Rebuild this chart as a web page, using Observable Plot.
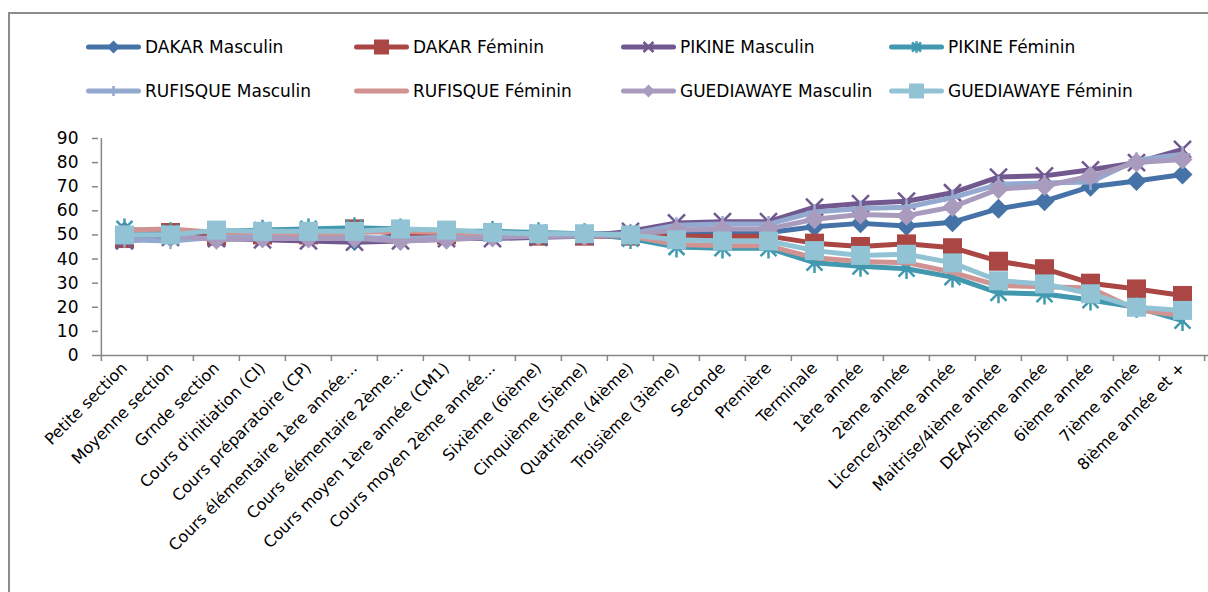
<!DOCTYPE html>
<html><head><meta charset="utf-8">
<script src="https://cdn.jsdelivr.net/npm/d3@7"></script>
<script src="https://cdn.jsdelivr.net/npm/@observablehq/plot@0.6"></script>
<style>
html,body{margin:0;padding:0;background:#fff;}
body{font-family:"DejaVu Sans",sans-serif;width:1208px;height:592px;position:relative;overflow:hidden;}
#frame{position:absolute;left:8px;top:12px;width:1230px;height:620px;border:2px solid #8c8c8c;box-sizing:border-box;}
#legend{position:absolute;left:0;top:0;width:1208px;height:118px;}
#chart{position:absolute;left:0;top:118px;}
.item{position:absolute;display:flex;align-items:center;height:24px;font-size:17px;color:#000;white-space:nowrap;}
.item svg{margin-right:4px;}
</style></head><body>
<div id="frame"></div>
<div id="legend"></div>
<div id="chart"></div>
<script>
const categories = ["Petite section","Moyenne section","Grnde section","Cours d'initiation (CI)","Cours préparatoire (CP)","Cours élémentaire 1ère année...","Cours élémentaire 2ème...","Cours moyen 1ère année (CM1)","Cours moyen 2ème année...","Sixième (6ième)","Cinquième (5ième)","Quatrième (4ième)","Troisième (3ième)","Seconde","Première","Terminale","1ère année","2ème année","Licence/3ième année","Maitrise/4ième année","DEA/5ième année","6ième année","7ième année","8ième année et +"];

const dakarMasculin    = [51.5,49,50.5,50,50,47.5,49.5,50,49,50.5,50.5,50.5,50.5,50.5,51,53.4,54.8,53.7,55.3,60.9,64,70,72.4,75.1];
const dakarFeminin     = [48.5,51,49.5,50,50,52.5,50.5,50,51,49.5,49.5,49.5,49.5,49.5,49.5,46.6,45.2,46.3,44.7,39.1,36,30,27.6,24.9];
const pikineMasculin   = [47.5,49,48.5,48,47.5,47,47.5,48.5,48.5,49,49.5,51.5,55,55.5,55.5,61.5,63,64,67.5,74,74.5,77,80,85.5];
const pikineFeminin    = [52.5,51,51.5,52,52.5,53,52.5,51.5,51.5,51,50.5,48.5,45,44.5,44.5,38.5,37,36,32.5,26,25.5,23,20,14.5];
const rufisqueMasculin = [48,47.5,49,49,49.5,49,48.5,49,49.5,49.5,50,50.5,54,54.5,54.5,59.5,61,61.5,65.5,71,71.5,72,81,83.5];
const rufisqueFeminin  = [52,52.5,51,51,50.5,51,51.5,51,50.5,50.5,50,49.5,46,45.5,45.5,40.5,39,38.5,34.5,29,28.5,28,19,16.5];
const guediawayeMasculin = [50,50,48,48.5,48.5,48.5,47.5,48,49,49.5,49.5,50,52,52.5,52.5,56.5,58.5,58,61.6,69,70.3,74.4,80,81.3];
const guediawayeFeminin  = [50,50,52,51.5,51.5,51.5,52.5,52,51,50.5,50.5,50,48,47.5,47.5,43.5,41.5,42,38.4,31,29.7,25.6,20,18.7];

const yTicks = [0,10,20,30,40,50,60,70,80,90];

const half = size => Math.sqrt(size/Math.PI);
const diamondSym = {draw(c,s){const r=half(s);c.moveTo(0,-r);c.lineTo(r,0);c.lineTo(0,r);c.lineTo(-r,0);c.closePath();}};
const squareSym  = {draw(c,s){const r=half(s);c.moveTo(-r,-r);c.lineTo(r,-r);c.lineTo(r,r);c.lineTo(-r,r);c.closePath();}};
const timesSym   = {draw(c,s){const r=half(s);c.moveTo(-r,-r);c.lineTo(r,r);c.moveTo(-r,r);c.lineTo(r,-r);}};
const starSym    = {draw(c,s){const r=half(s);c.moveTo(-r,-r);c.lineTo(r,r);c.moveTo(-r,r);c.lineTo(r,-r);c.moveTo(0,-r*1.3);c.lineTo(0,r*1.3);}};
const plusSym    = {draw(c,s){const r=half(s);c.moveTo(0,-r);c.lineTo(0,r);c.moveTo(-r,0);c.lineTo(r,0);}};
const dashSym    = {draw(c,s){const r=half(s);c.moveTo(-r,0);c.lineTo(r,0);}};

const series = [
  {name:"DAKAR Masculin", values:dakarMasculin, color:"#4572A7", symbol:diamondSym, filled:true, r:10, lr:6.5},
  {name:"DAKAR Féminin", values:dakarFeminin, color:"#AA4643", symbol:squareSym, filled:true, r:9.5, lr:7.5},
  {name:"PIKINE Masculin", values:pikineMasculin, color:"#71588F", symbol:timesSym, filled:false, r:8.5, lr:5},
  {name:"PIKINE Féminin", values:pikineFeminin, color:"#4198AF", symbol:starSym, filled:false, r:8, lr:4.5},
  {name:"RUFISQUE Masculin", values:rufisqueMasculin, color:"#93A9CF", symbol:plusSym, filled:false, r:8, lr:5},
  {name:"RUFISQUE Féminin", values:rufisqueFeminin, color:"#D19392", symbol:dashSym, filled:false, r:6, lr:4},
  {name:"GUEDIAWAYE Masculin", values:guediawayeMasculin, color:"#A99BBD", symbol:diamondSym, filled:true, r:10, lr:6.5},
  {name:"GUEDIAWAYE Féminin", values:guediawayeFeminin, color:"#91C3D5", symbol:squareSym, filled:true, r:9.5, lr:7.5}
];

const rows = series.flatMap(s => s.values.map((v,i) => ({series:s.name, cat:categories[i], value:v})));

const W = 1208, H = 474, mL = 98, mR = 0, mT = 20, mB = 237;
const bw = (W - mL - mR) / categories.length;
const axisColor = "#868686";

const marks = [
  Plot.ruleY([0], {stroke: axisColor, strokeWidth: 1.5}),
  Plot.ruleX([categories[0]], {y1: 0, y2: 90, dx: -bw/2, stroke: axisColor, strokeWidth: 1.5}),
  Plot.ruleX(categories, {y1: 0, y2: 0, insetBottom: -6, dx: -bw/2, stroke: axisColor, strokeWidth: 1.5}),
  Plot.ruleX([categories[categories.length-1]], {y1: 0, y2: 0, insetBottom: -6, dx: bw/2 - 1, stroke: axisColor, strokeWidth: 1.5}),
  Plot.axisY({ticks: yTicks, tickSize: 6, tickPadding: 14, stroke: axisColor, strokeWidth: 1.5, fontSize: 17, color: "#000", label: null}),
  Plot.axisX({tickSize: 0, tickRotate: -45, tickPadding: 10, fontSize: 16, label: null, color:"#000"})
];
for (const s of series) {
  const d = rows.filter(r => r.series === s.name);
  marks.push(Plot.line(d, {x: "cat", y: "value", stroke: s.color, strokeWidth: 5, strokeLinejoin: "round", strokeLinecap: "round"}));
  marks.push(Plot.dot(d, {x: "cat", y: "value", symbol: s.symbol, r: s.r,
    fill: s.filled ? s.color : "none", stroke: s.filled ? "none" : s.color, strokeWidth: s.filled ? 0 : 2.5}));
}

const chart = Plot.plot({
  width: W, height: H, marginLeft: mL, marginRight: mR, marginTop: mT, marginBottom: mB,
  style: {fontFamily: '"DejaVu Sans", sans-serif', background: "transparent", color: "#000", overflow: "visible"},
  x: {type: "band", domain: categories, padding: 0, label: null},
  y: {domain: [0, 90], label: null},
  marks
});
document.getElementById("chart").appendChild(chart);

const legend = d3.select("#legend");
const cols = [86, 354, 621, 889];
const rowsY = [47, 91];
series.forEach((s, i) => {
  const pos = [[0,0],[0,1],[0,2],[0,3],[1,0],[1,1],[1,2],[1,3]][i];
  const item = legend.append("div").attr("class","item")
    .style("left", cols[pos[1]] + "px").style("top", (rowsY[pos[0]] - 12) + "px");
  const sw = item.append("svg").attr("width", 55).attr("height", 24);
  sw.append("line").attr("x1", 2.5).attr("x2", 52.5).attr("y1", 12).attr("y2", 12)
    .attr("stroke", s.color).attr("stroke-width", 5).attr("stroke-linecap", "round");
  const p = d3.path(); s.symbol.draw(p, Math.PI * s.lr * s.lr);
  sw.append("path").attr("d", p.toString()).attr("transform", "translate(27.5,12)")
    .attr("fill", s.filled ? s.color : "none").attr("stroke", s.filled ? "none" : s.color).attr("stroke-width", 2.5);
  item.append("span").text(s.name);
});
</script>
</body></html>
